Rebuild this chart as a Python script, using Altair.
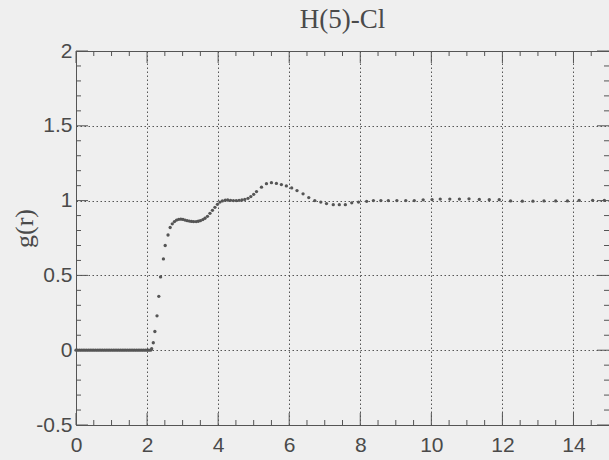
import altair as alt
import pandas as pd

# g(r) samples (r in Angstrom)
r = [0.00, 0.05, 0.10, 0.15, 0.20, 0.25, 0.30, 0.35, 0.40, 0.45,
     0.50, 0.55, 0.60, 0.65, 0.70, 0.75, 0.80, 0.85, 0.90, 0.95,
     1.00, 1.05, 1.10, 1.15, 1.20, 1.25, 1.30, 1.35, 1.40, 1.45,
     1.50, 1.55, 1.60, 1.65, 1.70, 1.75, 1.80, 1.85, 1.90, 1.95,
     2.00, 2.05, 2.10,
     2.13, 2.175, 2.22, 2.28, 2.33, 2.38, 2.46, 2.51, 2.59, 2.65,
     2.71, 2.77, 2.83, 2.89, 2.95, 3.01, 3.07, 3.13, 3.19, 3.25,
     3.31, 3.38, 3.44, 3.50, 3.57, 3.63, 3.70, 3.77, 3.84, 3.91,
     3.98, 4.05, 4.12, 4.20, 4.27, 4.35, 4.43, 4.51, 4.59, 4.67,
     4.75, 4.84, 4.92, 5.00, 5.08, 5.22, 5.36, 5.50, 5.64, 5.78,
     5.92, 6.07, 6.22, 6.39, 6.55, 6.72, 6.89, 7.05, 7.24, 7.41,
     7.58, 7.76, 7.95, 8.18, 8.37, 8.58, 8.79, 9.03, 9.28, 9.52,
     9.77, 10.02, 10.25, 10.52, 10.79, 11.06, 11.35, 11.63, 11.91, 12.23,
     12.56, 12.86, 13.17, 13.50, 13.83, 14.16, 14.54, 14.87]
g = [0.0, 0.0, 0.0, 0.0, 0.0, 0.0, 0.0, 0.0, 0.0, 0.0,
     0.0, 0.0, 0.0, 0.0, 0.0, 0.0, 0.0, 0.0, 0.0, 0.0,
     0.0, 0.0, 0.0, 0.0, 0.0, 0.0, 0.0, 0.0, 0.0, 0.0,
     0.0, 0.0, 0.0, 0.0, 0.0, 0.0, 0.0, 0.0, 0.0, 0.0,
     0.0, 0.0, 0.0,
     0.01, 0.05, 0.125, 0.23, 0.36, 0.49, 0.61, 0.70, 0.77, 0.82,
     0.845, 0.86, 0.87, 0.875, 0.876, 0.874, 0.870, 0.866, 0.863, 0.861,
     0.860, 0.860, 0.862, 0.866, 0.873, 0.882, 0.895, 0.915, 0.935, 0.955,
     0.975, 0.990, 0.998, 1.003, 1.004, 1.002, 1.000, 1.000, 1.002, 1.004,
     1.008, 1.015, 1.027, 1.042, 1.060, 1.090, 1.113, 1.120, 1.115, 1.107,
     1.098, 1.085, 1.067, 1.045, 1.020, 1.000, 0.990, 0.980, 0.973, 0.973,
     0.973, 0.985, 0.990, 0.995, 1.000, 1.000, 1.000, 1.000, 1.000, 1.000,
     1.005, 1.007, 1.010, 1.010, 1.010, 1.012, 1.008, 1.006, 1.006, 0.998,
     0.996, 0.996, 0.998, 0.998, 0.998, 1.002, 1.002, 1.002]

x_major = [0, 2, 4, 6, 8, 10, 12, 14]
x_minor = [0.5, 1, 1.5, 2.5, 3, 3.5, 4.5, 5, 5.5, 6.5, 7, 7.5, 8.5, 9, 9.5,
           10.5, 11, 11.5, 12.5, 13, 13.5, 14.5]
y_major = [-0.5, 0, 0.5, 1, 1.5, 2]
y_minor = [-0.4, -0.3, -0.2, -0.1, 0.1, 0.2, 0.3, 0.4, 0.6, 0.7, 0.8, 0.9,
           1.1, 1.2, 1.3, 1.4, 1.6, 1.7, 1.8, 1.9]

INK = "#555555"
LABEL = "#4a4a4a"
xs = alt.Scale(domain=[0, 15], nice=False, zero=False)
ys = alt.Scale(domain=[-0.5, 2], nice=False, zero=False)

x_axis = alt.Axis(values=x_major, grid=True, gridDash=[1.5, 2.5],
                  gridColor=INK, gridWidth=1, ticks=False, domain=False,
                  labelFont="Liberation Sans", labelFontSize=21,
                  labelColor=LABEL, labelPadding=9, labelFlush=False,
                  labelOverlap=False, title=None)
y_axis = alt.Axis(values=y_major, grid=True, gridDash=[1.5, 2.5],
                  gridColor=INK, gridWidth=1, ticks=False, domain=False,
                  labelFont="Liberation Sans", labelFontSize=21,
                  labelColor=LABEL, labelPadding=4, labelFlush=False,
                  labelOverlap=False,
                  labelExpr="toString(datum.value)",
                  title="g(r)", titleFont="Liberation Serif",
                  titleFontSize=26, titleFontWeight="normal",
                  titleColor=LABEL, titleAngle=270, titleAlign="center",
                  titleBaseline="middle", titleX=-52, titleY=177)

df = pd.DataFrame({"r": r, "g": g})

points = alt.Chart(df).mark_circle(size=11, color=INK, opacity=1).encode(
    x=alt.X("r:Q", scale=xs, axis=x_axis),
    y=alt.Y("g:Q", scale=ys, axis=y_axis),
)


def hticks(vals, at, size, sign):
    d = pd.DataFrame({"v": vals})
    return alt.Chart(d).mark_tick(orient="vertical", size=size, thickness=1,
                                  color=INK, opacity=1,
                                  yOffset=sign * size / 2).encode(
        x=alt.X("v:Q", scale=xs, axis=x_axis),
        y=alt.YDatum(at, scale=ys, axis=y_axis),
    )


def vticks(vals, at, size, sign):
    d = pd.DataFrame({"v": vals})
    return alt.Chart(d).mark_tick(orient="horizontal", size=size, thickness=1,
                                  color=INK, opacity=1,
                                  xOffset=sign * size / 2).encode(
        y=alt.Y("v:Q", scale=ys, axis=y_axis),
        x=alt.XDatum(at, scale=xs, axis=x_axis),
    )


layers = [
    points,
    hticks(x_major, -0.5, 12, -1), hticks(x_minor, -0.5, 5, -1),
    hticks(x_major, 2, 12, 1), hticks(x_minor, 2, 5, 1),
    vticks(y_major, 0, 12, 1), vticks(y_minor, 0, 5, 1),
    vticks(y_major, 15, 12, -1), vticks(y_minor, 15, 5, -1),
]

chart = alt.layer(*layers).properties(
    width=533,
    height=374,
    title=alt.TitleParams("H(5)-Cl", font="Liberation Serif", fontSize=27,
                          fontWeight="normal", color=LABEL, offset=6),
    background="#efefef",
    padding={"left": 76, "top": 51, "right": 0, "bottom": 35},
    autosize="none",
).configure_view(stroke=INK, strokeWidth=1)

chart.save("out.html", embed_options={"renderer": "svg", "actions": False})
